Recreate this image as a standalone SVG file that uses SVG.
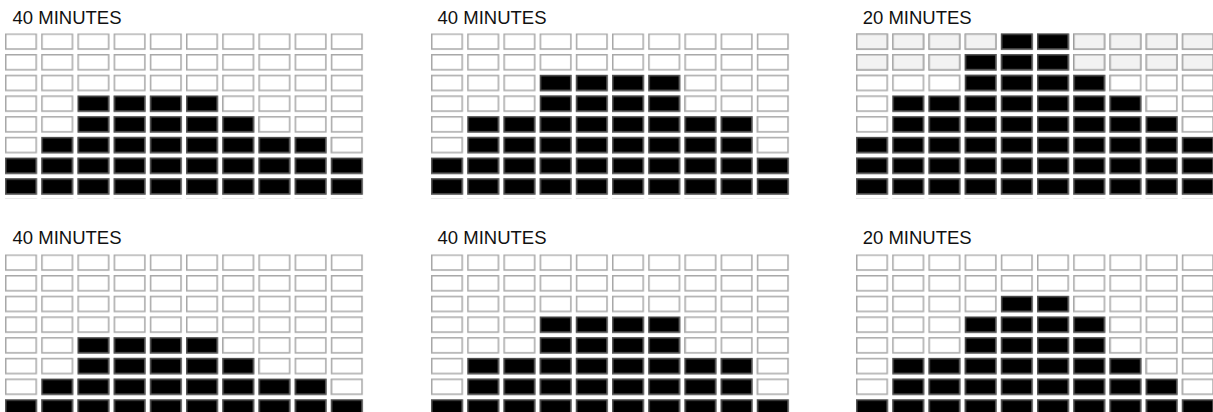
<svg xmlns="http://www.w3.org/2000/svg" width="1213" height="412" viewBox="0 0 1213 412">
<style>
.t{font-family:"Liberation Sans","Open Sans",sans-serif;font-size:18.5px;fill:#111}
.e{fill:url(#pe)}
.g{fill:url(#pg)}
.b{fill:url(#pb)}
</style>
<defs>
<pattern id="pe" patternUnits="userSpaceOnUse" x="0" y="0" width="36.2" height="20.7">
<rect x="0.75" y="0.75" width="30.5" height="15" fill="#fff" stroke="#a8a8a8" stroke-width="1.5"/>
</pattern>
<pattern id="pg" patternUnits="userSpaceOnUse" x="0" y="0" width="36.2" height="20.7">
<rect x="0.75" y="0.75" width="30.5" height="15" fill="#f2f2f2" stroke="#a8a8a8" stroke-width="1.5"/>
</pattern>
<pattern id="pb" patternUnits="userSpaceOnUse" x="0" y="0" width="36.2" height="20.7">
<rect x="0.75" y="0.75" width="30.5" height="15" fill="#000" stroke="#555" stroke-width="1.5"/>
</pattern>
</defs>
<rect width="1213" height="412" fill="#fff"/>
<g id="panel-top-left" transform="translate(5,33.3)">
<text class="t" x="7.5" y="-9.3">40 MINUTES</text>
<rect class="e" x="0" y="0" width="362" height="165.6"/>
<rect class="b" x="72.4" y="62.1" width="144.8" height="20.7"/>
<rect class="b" x="72.4" y="82.8" width="181" height="20.7"/>
<rect class="b" x="36.2" y="103.5" width="289.6" height="20.7"/>
<rect class="b" x="0" y="124.2" width="362" height="41.4"/>
</g>
<g id="panel-top-middle" transform="translate(431,33.3)">
<text class="t" x="6.5" y="-9.3">40 MINUTES</text>
<rect class="e" x="0" y="0" width="362" height="165.6"/>
<rect class="b" x="108.6" y="41.4" width="144.8" height="41.4"/>
<rect class="b" x="36.2" y="82.8" width="289.6" height="41.4"/>
<rect class="b" x="0" y="124.2" width="362" height="41.4"/>
</g>
<g id="panel-top-right" transform="translate(856,33.3)">
<text class="t" x="6.7" y="-9.3">20 MINUTES</text>
<rect class="e" x="0" y="0" width="362" height="165.6"/>
<rect class="g" x="0" y="0" width="362" height="41.4"/>
<rect class="b" x="144.8" y="0" width="72.4" height="20.7"/>
<rect class="b" x="108.6" y="20.7" width="108.6" height="20.7"/>
<rect class="b" x="108.6" y="41.4" width="144.8" height="20.7"/>
<rect class="b" x="36.2" y="62.1" width="253.4" height="20.7"/>
<rect class="b" x="36.2" y="82.8" width="289.6" height="20.7"/>
<rect class="b" x="0" y="103.5" width="362" height="62.1"/>
</g>
<g id="panel-bottom-left" transform="translate(5,254.3)">
<text class="t" x="7.5" y="-10.3">40 MINUTES</text>
<rect class="e" x="0" y="0" width="362" height="165.6"/>
<rect class="b" x="72.4" y="82.8" width="144.8" height="20.7"/>
<rect class="b" x="72.4" y="103.5" width="181" height="20.7"/>
<rect class="b" x="36.2" y="124.2" width="289.6" height="20.7"/>
<rect class="b" x="0" y="144.9" width="362" height="20.7"/>
</g>
<g id="panel-bottom-middle" transform="translate(431,254.3)">
<text class="t" x="6.5" y="-10.3">40 MINUTES</text>
<rect class="e" x="0" y="0" width="362" height="165.6"/>
<rect class="b" x="108.6" y="62.1" width="144.8" height="41.4"/>
<rect class="b" x="36.2" y="103.5" width="289.6" height="41.4"/>
<rect class="b" x="0" y="144.9" width="362" height="20.7"/>
</g>
<g id="panel-bottom-right" transform="translate(856,254.3)">
<text class="t" x="6.7" y="-10.3">20 MINUTES</text>
<rect class="e" x="0" y="0" width="362" height="165.6"/>
<rect class="b" x="144.8" y="41.4" width="72.4" height="20.7"/>
<rect class="b" x="108.6" y="62.1" width="144.8" height="41.4"/>
<rect class="b" x="36.2" y="103.5" width="253.4" height="20.7"/>
<rect class="b" x="36.2" y="124.2" width="289.6" height="20.7"/>
<rect class="b" x="0" y="144.9" width="362" height="20.7"/>
</g>
</svg>
